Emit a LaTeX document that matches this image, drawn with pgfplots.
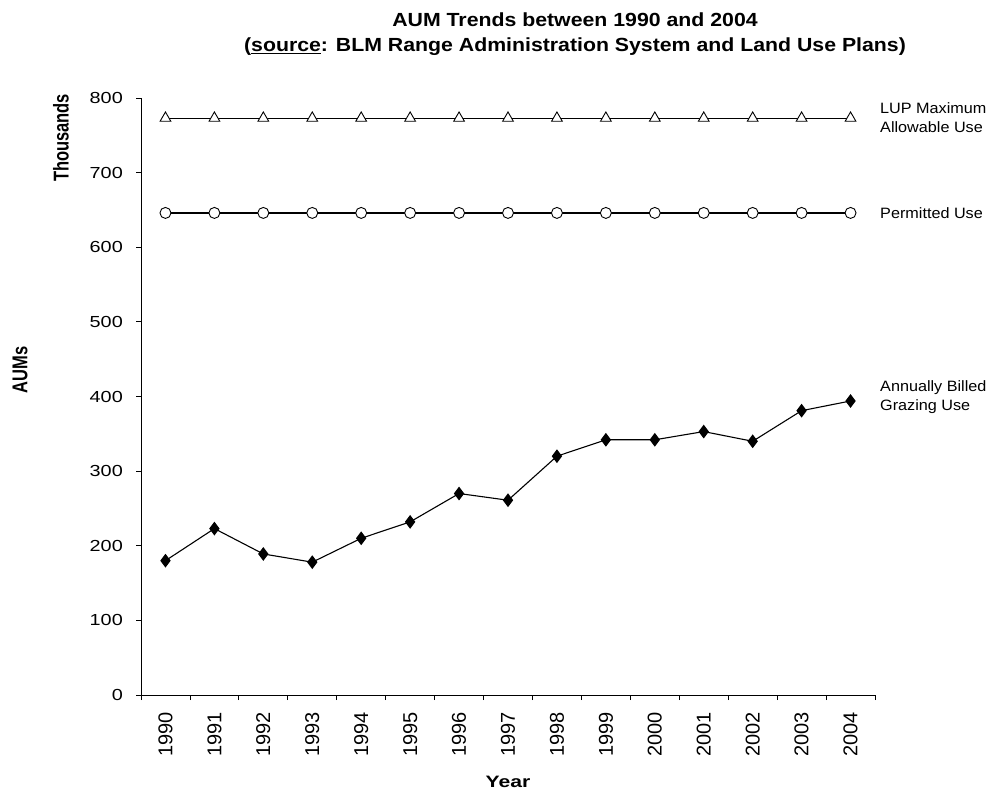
\documentclass[border=0pt]{standalone}
\usepackage{fontspec}
\usepackage{graphicx}
\setmainfont{Liberation Sans}
\newfontfamily\tickfont[FakeStretch=1.24]{Liberation Sans}
\newfontfamily\titlefont[FakeStretch=1.12]{Liberation Sans}
\newfontfamily\sidefont[FakeStretch=1.08]{Liberation Sans}
\newfontfamily\yearfont[FakeStretch=1.28]{Liberation Sans}
\usepackage{pgfplots}
\pgfplotsset{compat=1.18}
\begin{document}
\begin{tikzpicture}
\useasboundingbox (-141pt,-98pt) rectangle (849pt,695pt);
\begin{axis}[
  at={(0pt,0pt)}, anchor=south west,
  scale only axis, width=734pt, height=597pt,
  xmin=1989.5, xmax=2004.5, ymin=0, ymax=800,
  axis x line*=bottom, axis y line*=left,
  axis line style={-, line width=0.8pt},
  xtick={1989.5,1990.5,...,2004.5}, xticklabels={},
  extra x ticks={1990,1991,...,2004},
  extra x tick labels={1990,1991,1992,1993,1994,1995,1996,1997,1998,1999,2000,2001,2002,2003,2004},
  extra x tick style={major tick length=0pt, tick label style={rotate=90, anchor=east, inner sep=0pt, font=\fontsize{20}{24}\selectfont}},
  xticklabel shift=17pt,
  ytick={0,100,...,800},
  yticklabel style={font=\tickfont\fontsize{16}{19}\selectfont, inner sep=0pt},
  yticklabel shift=13pt,
  /pgf/number format/assume math mode=true,
  tick align=outside, major tick length=5pt,
  tick style={black, line width=0.8pt},
  clip=false,
]
\addplot[black, line width=1.2pt, mark=triangle*, mark size=6.2pt, mark options={fill=white, line width=0.9pt}] coordinates {
(1990,773) (1991,773) (1992,773) (1993,773) (1994,773) (1995,773) (1996,773) (1997,773)
(1998,773) (1999,773) (2000,773) (2001,773) (2002,773) (2003,773) (2004,773)};
\addplot[black, line width=1.2pt, mark=*, mark size=5.5pt, mark options={fill=white, line width=0.9pt}] coordinates {
(1990,646) (1991,646) (1992,646) (1993,646) (1994,646) (1995,646) (1996,646) (1997,646)
(1998,646) (1999,646) (2000,646) (2001,646) (2002,646) (2003,646) (2004,646)};
\addplot[black, line width=1.1pt, mark=diamond*, mark size=6pt, mark options={fill=black}] coordinates {
(1990,180) (1991,223) (1992,189) (1993,178) (1994,210) (1995,232) (1996,270) (1997,261)
(1998,320) (1999,342) (2000,342) (2001,353) (2002,340) (2003,381) (2004,394)};
\end{axis}
\node[font=\titlefont\bfseries\fontsize{19}{23}\selectfont] at (434pt,675pt) {AUM Trends between 1990 and 2004};
\node[font=\titlefont\bfseries\fontsize{19}{23}\selectfont] at (434pt,648pt) {(\underline{source}: BLM Range Administration System and Land Use Plans)};
\node[rotate=90, font=\bfseries\fontsize{16.5}{20}\selectfont] at (-80pt,557pt) {\scalebox{1}[1.3]{Thousands}};
\node[rotate=90, font=\bfseries\fontsize{16.5}{20}\selectfont] at (-121pt,325pt) {\scalebox{1}[1.3]{AUMs}};
\node[font=\yearfont\bfseries\fontsize{16.5}{20}\selectfont] at (367pt,-87pt) {Year};
\node[anchor=west, align=left, inner sep=0pt, font=\sidefont\fontsize{15}{19}\selectfont] at (739pt,577pt) {LUP Maximum\\Allowable Use};
\node[anchor=west, inner sep=0pt, font=\sidefont\fontsize{15}{19}\selectfont] at (739pt,482pt) {Permitted Use};
\node[anchor=west, align=left, inner sep=0pt, font=\sidefont\fontsize{15}{19}\selectfont] at (739pt,298pt) {Annually Billed\\Grazing Use};
\end{tikzpicture}
\end{document}
